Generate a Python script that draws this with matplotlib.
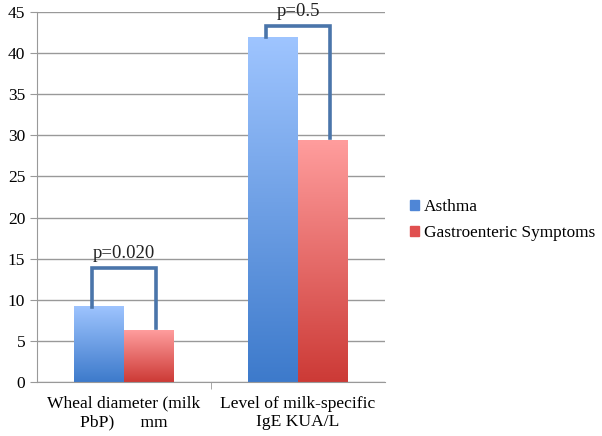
import numpy as np
import matplotlib.pyplot as plt
from matplotlib.colors import LinearSegmentedColormap
from matplotlib.patches import Patch

categories = ["Wheal diameter (milk\nPbP)      mm", "Level of milk-specific\nIgE KUA/L"]
asthma = [9.25, 42.0]
gastro = [6.3, 29.4]
series_names = ["Asthma", "Gastroenteric Symptoms"]
p_labels = ["p=0.020", "p=0.5"]
bracket_heights = [13.9, 43.3]

plt.rcParams["font.family"] = ["Liberation Serif", "DejaVu Serif"]

fig = plt.figure(figsize=(6.02, 4.36), dpi=100)
ax = fig.add_axes([37 / 602, 54 / 436, 348 / 602, 370 / 436])

blue_cmap = LinearSegmentedColormap.from_list("b", ["#3d7acb", "#9fc5ff"])
red_cmap = LinearSegmentedColormap.from_list("r", ["#cc3a36", "#ff9d9d"])
grad = np.linspace(0, 1, 256).reshape(-1, 1)

x = np.arange(len(categories))
w = 0.285


def gradient_bars(xs, vals, cmap):
    bars = ax.bar(xs, vals, w, color="none", edgecolor="none", zorder=2)
    for b in bars:
        x0, y0 = b.get_x(), b.get_y()
        im = ax.imshow(grad, cmap=cmap, origin="lower", aspect="auto",
                       extent=[x0, x0 + b.get_width(), y0, y0 + b.get_height()],
                       zorder=2)
        im.set_clip_path(b)
    return bars


gradient_bars(x - w / 2, asthma, blue_cmap)
gradient_bars(x + w / 2, gastro, red_cmap)

# significance brackets
for i in range(len(categories)):
    xl = x[i] - 0.185
    xr = x[i] + 0.185
    h = bracket_heights[i]
    ax.plot([xl, xl, xr, xr], [asthma[i] - 0.1, h, h, gastro[i] + 0.3],
            color="#4a75aa", lw=2.6, zorder=3, solid_joinstyle="miter")
    ax.text(x[i], h + 0.7, p_labels[i], ha="center", va="bottom",
            fontsize=13.5, color="#222222", zorder=4)

ax.set_xlim(-0.5, 1.5)
ax.set_ylim(0, 45)
ax.set_yticks(range(0, 46, 5))
ax.set_xticks([0.5], minor=True)
ax.set_xticks(x)
ax.set_xticklabels(categories, fontsize=12.6)
ax.tick_params(axis="x", which="major", length=0, pad=10)
ax.tick_params(axis="x", which="minor", length=5, color="#999999")
ax.tick_params(axis="y", length=5, color="#999999", labelsize=12.5)
ax.yaxis.grid(True, color="#999999", lw=1)
ax.set_axisbelow(True)
for s in ["top", "right"]:
    ax.spines[s].set_visible(False)
ax.spines["left"].set_color("#999999")
ax.spines["bottom"].set_color("#999999")

handles = [Patch(color="#4f86d6"), Patch(color="#e05050")]
fig.legend(handles, series_names, loc="upper left", bbox_to_anchor=(410 / 602, 1 - 199 / 436),
           frameon=False, fontsize=12.4, handlelength=0.55, handleheight=0.55,
           handletextpad=0.25, labelspacing=0.6, borderpad=0, borderaxespad=0)

fig.savefig("out.png", dpi=100)
